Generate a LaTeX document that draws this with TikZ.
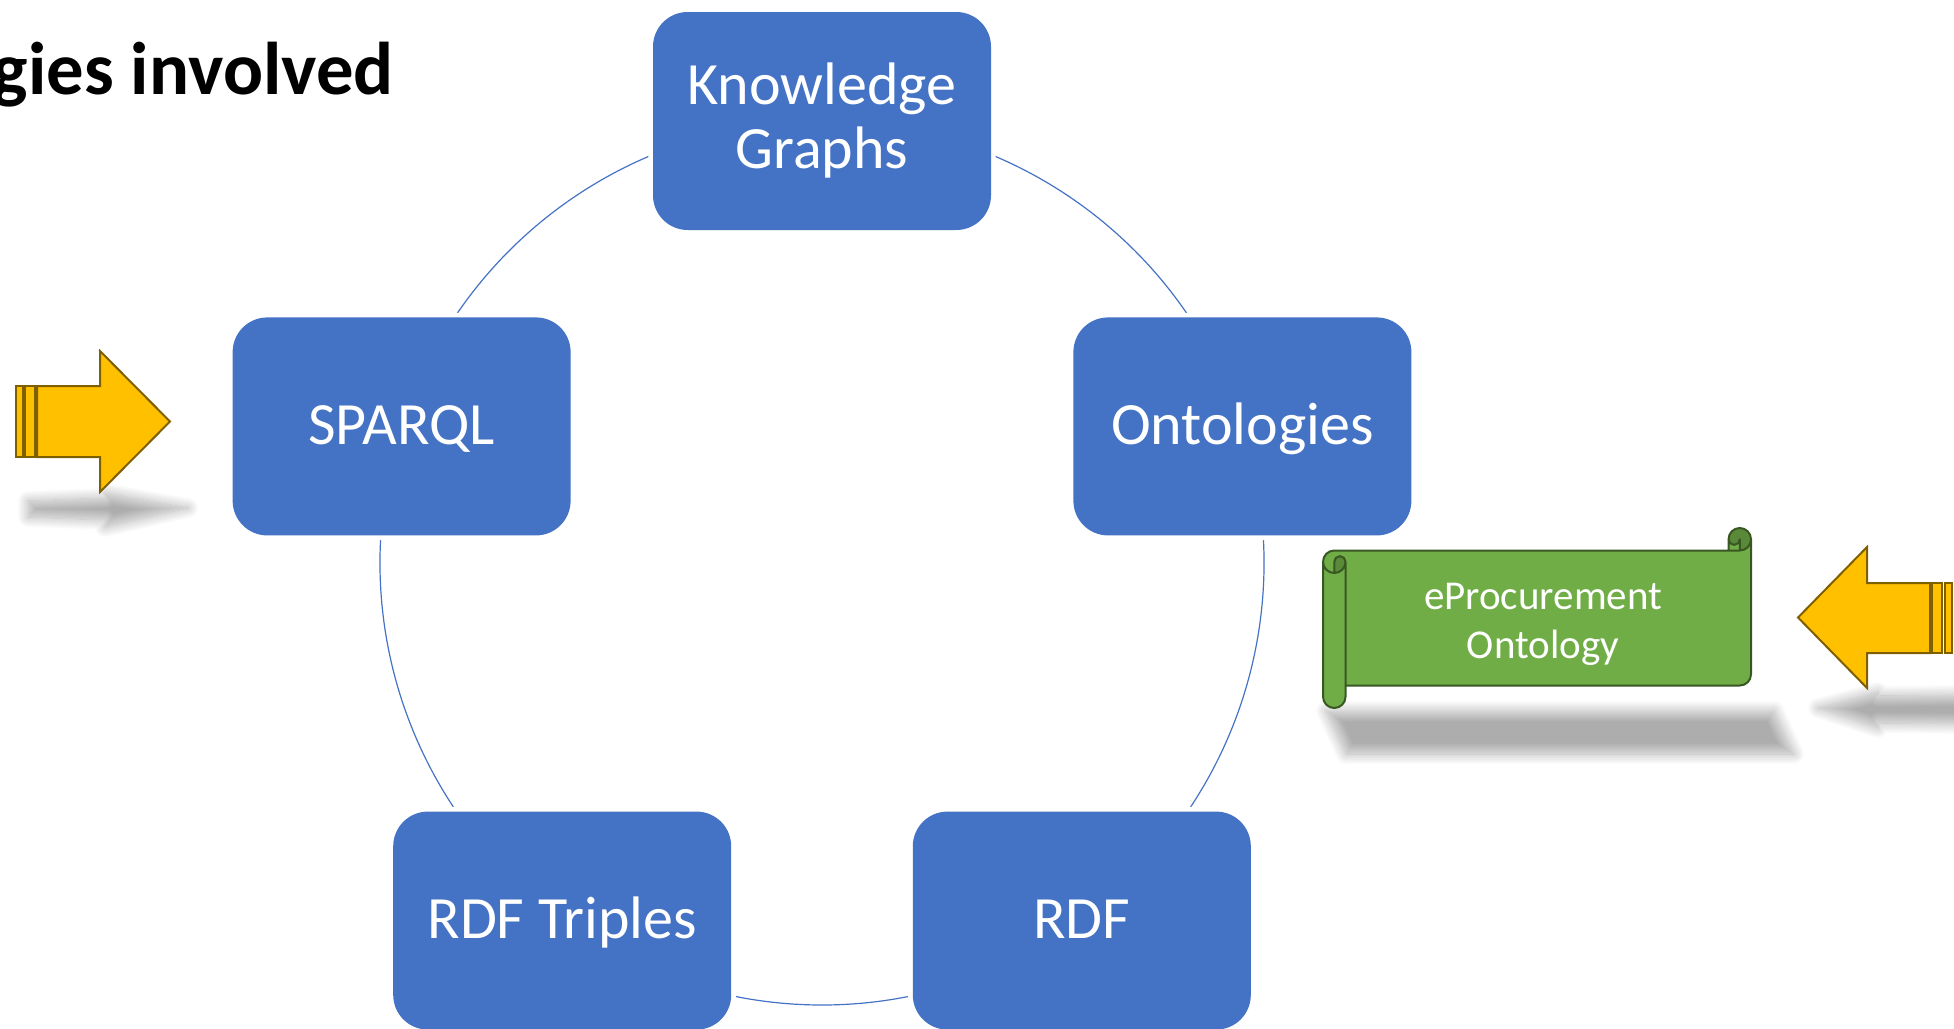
\documentclass[tikz,border=0pt]{standalone}
\usepackage{fontspec}
\setmainfont{Carlito}
\usetikzlibrary{shadows.blur}
\definecolor{boxblue}{HTML}{4472C4}
\definecolor{arrowfill}{HTML}{FFC000}
\definecolor{arrowline}{HTML}{7F6000}
\definecolor{scrollfill}{HTML}{70AD47}
\definecolor{scrolldark}{HTML}{5A8A39}
\definecolor{scrollline}{HTML}{385723}
\begin{document}
\begin{tikzpicture}[x=0.75pt, y=-0.75pt,
  cyclebox/.style={fill=boxblue, rounded corners=26pt, minimum width=253.5pt,
    minimum height=163.5pt, inner sep=0pt, text=white,
    font=\fontsize{45}{48}\selectfont, preaction={draw=white, line width=7pt}},
  oneline/.style={cyclebox, text height=36pt, text depth=9pt},
  twoline/.style={cyclebox, align=center},
  cycline/.style={draw=boxblue, line width=0.9pt},
  arrowst/.style={fill=arrowfill, draw=arrowline, line width=1.5pt, line join=miter},
  softshadow/.style={blur shadow={shadow xshift=0pt, shadow yshift=0pt,
    shadow blur radius=#1, shadow blur steps=16, shadow opacity=32}},
  softshadow/.default=8pt,
  scrolltext/.style={text=white, align=center, inner sep=0pt,
    font=\fontsize{30.75}{36.75}\selectfont},
  titletext/.style={inner sep=0pt, font=\fontsize{56}{62}\selectfont\bfseries}]
\useasboundingbox (0,0) rectangle (1954,1028);

% title
\node[titletext, anchor=base east] (title) at (394,94) {gies involved};

% positions on the cycle
\coordinate (cyc) at (822,563);
\coordinate (p-kg) at ([shift={(-90:442)}]cyc);
\coordinate (p-ont) at ([shift={(-18:442)}]cyc);
\coordinate (p-rdf) at ([shift={(54:442)}]cyc);
\coordinate (p-triples) at ([shift={(126:442)}]cyc);
\coordinate (p-sparql) at ([shift={(198:442)}]cyc);

% cycle arcs (drawn first, boxes with white halo on top)
\draw[cycline] (p-kg) arc[start angle=-90, delta angle=72, radius=442];
\draw[cycline] (p-ont) arc[start angle=-18, delta angle=72, radius=442];
\draw[cycline] (p-rdf) arc[start angle=54, delta angle=72, radius=442];
\draw[cycline] (p-triples) arc[start angle=126, delta angle=72, radius=442];
\draw[cycline] (p-sparql) arc[start angle=198, delta angle=72, radius=442];

% cycle boxes
\node[twoline] (kg) at (p-kg) {Knowledge\\Graphs};
\node[oneline] (ont) at (p-ont) {Ontologies};
\node[oneline] (rdf) at (p-rdf) {RDF};
\node[oneline] (triples) at (p-triples) {RDF Triples};
\node[oneline] (sparql) at (p-sparql) {SPARQL};

% shadows
\path[softshadow] (28,501) -- (105,498) -- (105,493) -- (188,508) -- (105,527) -- (105,520) -- (28,517) -- cycle;
\path[softshadow] (1818,708) -- (1878,692) -- (1878,696) -- (1966,695) -- (1966,724) -- (1878,723) -- (1878,728) -- cycle;
\path[softshadow] (1326,711) -- (1774,711) -- (1794,754) -- (1346,754) -- cycle;

% left striped arrow
\draw[arrowst] (37,386) -- (100,386) -- (100,351) -- (170,421.5) -- (100,492) -- (100,457) -- (37,457) -- cycle;
\draw[arrowst] (25,386) rectangle (35,457);
\draw[arrowst] (16,386) rectangle (23,457);

% right striped arrow
\draw[arrowst] (1930,583) -- (1867,583) -- (1867,547) -- (1798,617.5) -- (1867,688) -- (1867,653) -- (1930,653) -- cycle;
\draw[arrowst] (1932,583) rectangle (1942,653);
\draw[arrowst] (1945,583) rectangle (1952,653);

% horizontal scroll
\fill[scrollfill] (1751,539.25) arc[start angle=0, delta angle=90, radius=11.25]
  -- (1739.75,539.25) arc[start angle=0, delta angle=180, radius=5.625]
  -- (1728.5,550.5) -- (1334.25,550.5) arc[start angle=270, delta angle=-90, radius=11.25]
  -- (1323,696.75) arc[start angle=180, delta angle=-180, radius=11.25]
  -- (1345.5,685.5) -- (1739.75,685.5) arc[start angle=90, delta angle=-90, radius=11.25]
  -- cycle;
\fill[scrolldark] (1334.25,573) arc[start angle=90, delta angle=-90, radius=11.25]
  arc[start angle=0, delta angle=-180, radius=5.625] -- cycle;
\fill[scrolldark] (1739.75,550.5) arc[start angle=90, delta angle=-270, radius=11.25]
  arc[start angle=180, delta angle=-180, radius=5.625] -- cycle;
\draw[scrollline, line width=1.5pt, line join=round]
  (1323,561.75) arc[start angle=180, delta angle=90, radius=11.25]
  -- (1728.5,550.5) -- (1728.5,539.25) arc[start angle=180, delta angle=180, radius=11.25]
  -- (1751,674.25) arc[start angle=0, delta angle=90, radius=11.25]
  -- (1345.5,685.5) -- (1345.5,696.75) arc[start angle=0, delta angle=180, radius=11.25]
  -- cycle
  (1728.5,550.5) -- (1739.75,550.5) arc[start angle=90, delta angle=-90, radius=11.25]
  (1739.75,550.5) -- (1739.75,539.25) arc[start angle=0, delta angle=180, radius=5.625]
  (1334.25,573) -- (1334.25,561.75) arc[start angle=180, delta angle=180, radius=5.625]
  arc[start angle=0, delta angle=180, radius=11.25]
  (1345.5,561.75) -- (1345.5,685.5);
\node[scrolltext] (scroll) at (1543,624) {eProcurement\\Ontology};
\end{tikzpicture}
\end{document}
